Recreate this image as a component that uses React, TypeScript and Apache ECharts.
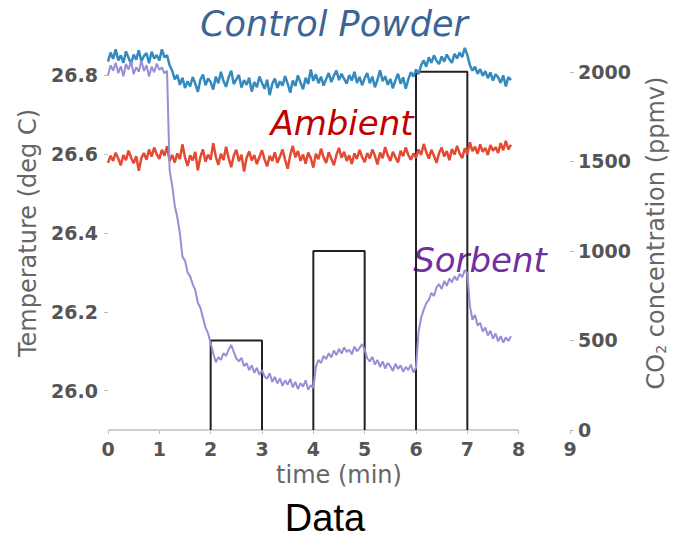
import React, { useEffect, useRef } from "react";
import * as echarts from "echarts";

// sampling step of the temperature records (minutes)
const sampleStep = 0.05;

const controlPowder = [
  26.835, 26.858, 26.842, 26.866, 26.838, 26.851, 26.832, 26.861, 26.845, 26.829,
  26.853, 26.840, 26.864, 26.836, 26.849, 26.857, 26.831, 26.860, 26.843, 26.852,
  26.838, 26.866, 26.846, 26.851, 26.826, 26.812, 26.790, 26.801, 26.776, 26.794,
  26.768, 26.785, 26.772, 26.796, 26.779, 26.758, 26.789, 26.802, 26.775, 26.792,
  26.783, 26.764, 26.797, 26.780, 26.809, 26.786, 26.771, 26.795, 26.812, 26.778,
  26.790, 26.801, 26.769, 26.788, 26.776, 26.794, 26.759, 26.783, 26.770, 26.797,
  26.781, 26.766, 26.789, 26.750, 26.778, 26.792, 26.768, 26.785, 26.774, 26.798,
  26.779, 26.756, 26.787, 26.773, 26.800, 26.782, 26.765, 26.794, 26.778, 26.815,
  26.786, 26.803, 26.780, 26.797, 26.774, 26.791, 26.806, 26.783, 26.799, 26.812,
  26.788, 26.804, 26.791, 26.779, 26.801, 26.787, 26.809, 26.781, 26.796, 26.775,
  26.793, 26.806, 26.780, 26.797, 26.770, 26.789, 26.813, 26.785, 26.798, 26.776,
  26.791, 26.767, 26.788, 26.804, 26.779, 26.795, 26.766, 26.790, 26.808, 26.797,
  26.815, 26.803, 26.826, 26.838, 26.822, 26.846, 26.832, 26.851, 26.837, 26.829,
  26.848, 26.835, 26.853, 26.841, 26.832, 26.855, 26.843, 26.858, 26.846, 26.870,
  26.852, 26.826, 26.812, 26.822, 26.804, 26.816, 26.799, 26.811, 26.793, 26.808,
  26.787, 26.803, 26.795, 26.781, 26.800, 26.772, 26.796, 26.788,
];

const ambient = [
  26.578, 26.596, 26.583, 26.604, 26.589, 26.572, 26.598, 26.585, 26.609, 26.591,
  26.577, 26.595, 26.558, 26.590, 26.603, 26.586, 26.612, 26.594, 26.617, 26.600,
  26.588, 26.611, 26.596, 26.620, 26.583, 26.598, 26.579, 26.602, 26.588, 26.625,
  26.592, 26.570, 26.597, 26.584, 26.606, 26.559, 26.593, 26.612, 26.581, 26.599,
  26.586, 26.628, 26.594, 26.573, 26.601, 26.585, 26.619, 26.590, 26.567, 26.596,
  26.611, 26.582, 26.599, 26.556, 26.591, 26.607, 26.584, 26.598, 26.575, 26.593,
  26.610, 26.587, 26.569, 26.596, 26.583, 26.605, 26.578, 26.594, 26.612, 26.586,
  26.563, 26.597, 26.621, 26.592, 26.608, 26.583, 26.599, 26.576, 26.604, 26.590,
  26.566, 26.601, 26.587, 26.614, 26.592, 26.578, 26.605, 26.589, 26.572, 26.598,
  26.616, 26.591, 26.606, 26.583, 26.597, 26.575, 26.602, 26.588, 26.611, 26.593,
  26.580, 26.603, 26.589, 26.612, 26.596, 26.574, 26.604, 26.590, 26.618, 26.597,
  26.583, 26.606, 26.592, 26.579, 26.609, 26.595, 26.617, 26.598, 26.586, 26.602,
  26.591, 26.612, 26.598, 26.626, 26.605, 26.589, 26.611, 26.596, 26.578, 26.603,
  26.617, 26.594, 26.608, 26.585, 26.613, 26.599, 26.621, 26.602, 26.590, 26.615,
  26.600, 26.630, 26.608, 26.619, 26.601, 26.625, 26.606, 26.616, 26.598, 26.623,
  26.609, 26.618, 26.603, 26.628, 26.610, 26.634, 26.612, 26.624,
];

const sorbent = [
  26.800, 26.826, 26.812, 26.832, 26.806, 26.823, 26.798, 26.829, 26.815, 26.836,
  26.803, 26.821, 26.809, 26.838, 26.811, 26.826, 26.797, 26.822, 26.808, 26.830,
  26.814, 26.820, 26.805, 26.812, 26.560, 26.520, 26.470, 26.440, 26.400, 26.340,
  26.330, 26.300, 26.290, 26.270, 26.255, 26.223, 26.210, 26.185, 26.160, 26.145,
  26.120, 26.095, 26.072, 26.085, 26.078, 26.095, 26.088, 26.104, 26.116, 26.098,
  26.082, 26.074, 26.083, 26.062, 26.070, 26.052, 26.064, 26.045, 26.058, 26.040,
  26.052, 26.036, 26.030, 26.044, 26.022, 26.035, 26.018, 26.031, 26.012, 26.026,
  26.015, 26.030, 26.008, 26.022, 26.004, 26.019, 26.010, 26.026, 26.002, 26.014,
  26.006, 26.060, 26.078, 26.070, 26.088, 26.080, 26.095, 26.084, 26.102, 26.090,
  26.106, 26.094, 26.110, 26.098, 26.104, 26.092, 26.112, 26.100, 26.108, 26.118,
  26.104, 26.082, 26.074, 26.086, 26.066, 26.078, 26.060, 26.074, 26.056, 26.070,
  26.062, 26.050, 26.068, 26.055, 26.064, 26.048, 26.060, 26.052, 26.066, 26.046,
  26.058, 26.150, 26.185, 26.205, 26.222, 26.230, 26.248, 26.240, 26.262, 26.270,
  26.258, 26.278, 26.266, 26.284, 26.275, 26.290, 26.280, 26.296, 26.288, 26.306,
  26.298, 26.215, 26.180, 26.192, 26.165, 26.172, 26.150, 26.160, 26.140, 26.152,
  26.132, 26.145, 26.125, 26.138, 26.122, 26.135, 26.126, 26.138,
];

// CO2 pulses (ppmv)
const pulseStart = [2, 4, 6];
const pulseEnd = [3, 5, 7];
const pulseLevel = [500, 1000, 2000];

const xTicks = [0, 1, 2, 3, 4, 5, 6, 7, 8, 9];
const tempTicks = [26.0, 26.2, 26.4, 26.6, 26.8];
const co2Ticks = [0, 500, 1000, 1500, 2000];
const xAxisSpan = [0, 8];

const FONT = "DejaVu Sans";

function toPairs(values: number[]) {
  return values.map((v, i) => [+(i * sampleStep).toFixed(2), v]);
}

export default function App() {
  const ref = useRef<HTMLDivElement>(null);

  useEffect(() => {
    if (!ref.current) return;
    const chart = echarts.init(ref.current, null, { renderer: "svg" });

    const pulseData: any[] = [];
    pulseStart.forEach((s, i) => {
      if (i > 0) pulseData.push([s - 0.5, "-"]);
      pulseData.push([s, 0], [s, pulseLevel[i]], [pulseEnd[i], pulseLevel[i]], [pulseEnd[i], 0]);
    });

    const tickLabel = {
      color: "#555",
      fontWeight: "bold" as const,
      fontSize: 19,
      fontFamily: FONT,
    };
    const nameStyle = { color: "#666", fontSize: 24, fontFamily: FONT };

    chart.setOption({
      animation: false,
      grid: { left: 108, right: 103, top: 36, bottom: 111, outerBoundsMode: "none", containLabel: false },
      xAxis: {
        type: "value",
        min: 0,
        max: 9,
        interval: 1,
        axisLine: { show: false },
        axisTick: { show: true, length: 4, lineStyle: { color: "#bbb" }, customValues: xTicks },
        splitLine: { show: false },
        axisLabel: { ...tickLabel, margin: 9, customValues: xTicks },
        name: "time (min)",
        nameLocation: "middle",
        nameGap: 33,
        nameTextStyle: { ...nameStyle, verticalAlign: "top" },
      },
      yAxis: [
        {
          type: "value",
          min: 25.9,
          max: 26.9,
          axisLine: { show: false },
          axisTick: { show: true, length: 4, lineStyle: { color: "#bbb" }, customValues: tempTicks },
          splitLine: { show: false },
          axisLabel: {
            ...tickLabel,
            margin: 10,
            customValues: tempTicks,
            formatter: (v: number) => v.toFixed(1),
          },
          name: "Temperature (deg C)",
          nameLocation: "middle",
          nameGap: 68,
          nameTextStyle: nameStyle,
        },
        {
          type: "value",
          position: "right",
          min: 0,
          max: 2200,
          axisLine: { show: false },
          axisTick: { show: true, length: 4, lineStyle: { color: "#bbb" }, customValues: co2Ticks },
          splitLine: { show: false },
          axisLabel: {
            ...tickLabel,
            margin: 8,
            customValues: co2Ticks,
            formatter: (v: number) => String(Math.round(v)),
          },
          name: "{n|CO}{s|2}{n| concentration (ppmv)}",
          nameLocation: "middle",
          nameRotate: 90,
          nameGap: 74,
          nameTextStyle: {
            ...nameStyle,
            rich: {
              n: { ...nameStyle },
              s: { color: "#666", fontSize: 14, fontFamily: FONT, verticalAlign: "bottom", padding: [10, 0, 0, 0] },
            },
          },
        },
      ],
      series: [
        {
          type: "line",
          yAxisIndex: 1,
          data: [[xAxisSpan[0], 0], [xAxisSpan[1], 0]],
          symbol: "none",
          silent: true,
          clip: false,
          lineStyle: { color: "#cfcfcf", width: 2 },
        },
        {
          type: "line",
          name: "CO2",
          yAxisIndex: 1,
          data: pulseData,
          symbol: "none",
          connectNulls: false,
          clip: false,
          lineStyle: { color: "#222", width: 2 },
        },
        {
          type: "line",
          name: "Control Powder",
          data: toPairs(controlPowder),
          symbol: "none",
          lineStyle: { color: "#348ABD", width: 2.5 },
        },
        {
          type: "line",
          name: "Ambient",
          data: toPairs(ambient),
          symbol: "none",
          lineStyle: { color: "#E24A33", width: 2.5 },
        },
        {
          type: "line",
          name: "Sorbent",
          data: toPairs(sorbent),
          symbol: "none",
          lineStyle: { color: "#988ED5", width: 2 },
        },
      ],
      graphic: [
        {
          type: "text",
          style: {
            x: 334, y: 24, text: "Control Powder", fill: "#3B6596",
            font: `italic 35px "${FONT}"`, textAlign: "center", textVerticalAlign: "middle",
          },
        },
        {
          type: "text",
          style: {
            x: 342, y: 123, text: "Ambient", fill: "#C00000",
            font: `italic 34px "${FONT}"`, textAlign: "center", textVerticalAlign: "middle",
          },
        },
        {
          type: "text",
          style: {
            x: 480, y: 260, text: "Sorbent", fill: "#7030A0",
            font: `italic 34px "${FONT}"`, textAlign: "center", textVerticalAlign: "middle",
          },
        },
        {
          type: "text",
          style: {
            x: 325, y: 518, text: "Data", fill: "#000",
            font: `38px "Liberation Sans"`, textAlign: "center", textVerticalAlign: "middle",
          },
        },
      ],
    });

    return () => chart.dispose();
  }, []);

  return <div ref={ref} style={{ width: 673, height: 541, position: "absolute", left: 0, top: 0 }} />;
}
